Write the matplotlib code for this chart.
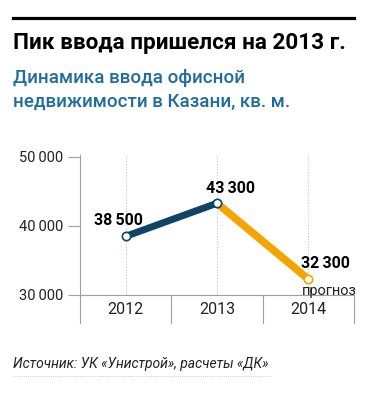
import matplotlib
matplotlib.use("Agg")
import matplotlib.pyplot as plt
from matplotlib.lines import Line2D

plt.rcParams['font.family'] = ['Roboto', 'DejaVu Sans']

years = ["2012", "2013", "2014"]
values = [38500, 43300, 32300]
value_labels = ["38\u2009500", "43\u2009300", "32\u2009300"]
y_ticks = [30000, 40000, 50000]
y_tick_labels = ["30\u2009000", "40\u2009000", "50\u2009000"]

NAVY = "#0e4466"
ORANGE = "#f5a500"
GRAY = "#a0a0a0"
BLUE = "#1f6d9c"

W, H = 386, 396
fig = plt.figure(figsize=(W / 100, H / 100), dpi=100)

# header
fig.add_artist(Line2D([13 / W, 354 / W], [1 - 17.5 / H] * 2, color="black", lw=2.3))
fig.text(13 / W, 1 - 49 / H, "Пик ввода пришелся на 2013 г.", fontsize=16.2,
         fontweight="bold", color="black", va="baseline")
fig.text(13 / W, 1 - 83 / H, "Динамика ввода офисной", fontsize=13.5,
         fontweight="medium", color=BLUE, va="baseline")
fig.text(13 / W, 1 - 107 / H, "недвижимости в Казани, кв. м.", fontsize=13.5,
         fontweight="medium", color=BLUE, va="baseline")

# axes: 50000 at y=157px, 30000 at y=295px
px_per_unit = (295 - 157) / 20000
ax = fig.add_axes([80 / W, 1 - 323 / H, (354 - 80) / W, (323 - 155) / H])
ax.set_xlim(-0.5, 2.5)
ax.set_ylim(30000 - 28 / px_per_unit, 50000 + 2 / px_per_unit)
ax.patch.set_alpha(0)

for s in ["top", "right", "bottom"]:
    ax.spines[s].set_visible(False)
ax.spines["left"].set_color(GRAY)
ax.spines["left"].set_linewidth(0.8)

ax.set_yticks(y_ticks)
ax.set_yticklabels(y_tick_labels, fontsize=10.5, color="#222222")
ax.tick_params(axis="y", length=9, width=0.8, color=GRAY, pad=3)
ax.set_xticks([])

ymin = ax.get_ylim()[0]
ax.axhline(30000, color=GRAY, lw=0.8)
for i, yr in enumerate(years):
    ax.plot([i, i], [30000, 50000 + 2 / px_per_unit], color="#c8c8c8", lw=0.8,
            ls=(0, (1, 1.5)), zorder=1)
    ax.text(i, (30000 + ymin) / 2, yr, ha="center", va="center", fontsize=11.5,
            color="#222222")
for xs in [0.5, 1.5, 2.5]:
    ax.plot([xs, xs], [ymin, 30000], color=GRAY, lw=0.8, clip_on=False)

# lines
ax.plot([0, 1], values[0:2], color=NAVY, lw=5, solid_capstyle="butt", zorder=3)
ax.plot([1, 2], values[1:3], color=ORANGE, lw=5.5, solid_capstyle="butt", zorder=2)
ax.plot([0], [values[0]], "o", ms=6, mfc="white", mec=NAVY, mew=1.2, zorder=4)
ax.plot([1], [values[1]], "o", ms=6, mfc="white", mec=NAVY, mew=1.2, zorder=4)
ax.plot([2], [values[2]], "o", ms=6, mfc="white", mec=ORANGE, mew=1.2, zorder=4)

# value labels
offsets = [(-0.08, 2300), (0.15, 2100), (0.19, 2300)]
for i, (v, lab) in enumerate(zip(values, value_labels)):
    dx, dy = offsets[i]
    ax.text(i + dx, v + dy, lab, ha="center", va="center", fontsize=11.5,
            fontweight="bold", color="black", zorder=5)
ax.text(1.93, values[2] - 1700, "прогноз", ha="left", va="center", fontsize=10.5,
        color="#222222")

# source
fig.text(13 / W, 1 - 368 / H, "Источник: УК «Унистрой», расчеты «ДК»", fontsize=10,
         style="italic", color="#222222", va="baseline")
fig.add_artist(Line2D([13 / W, 270 / W], [1 - 376 / H] * 2, color="#bbbbbb", lw=0.6,
                      ls=(0, (1, 1.5))))

fig.savefig("out.png", dpi=100)
